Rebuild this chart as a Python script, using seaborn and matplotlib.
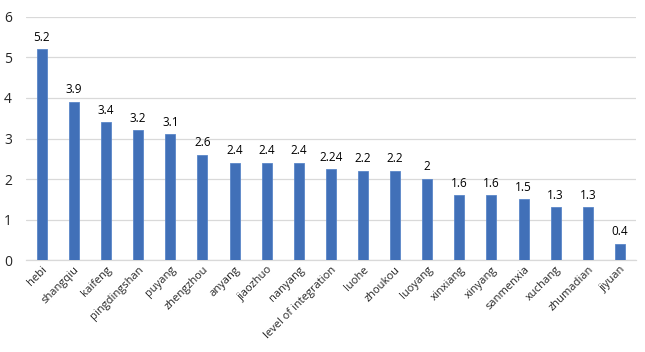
import pandas as pd
import matplotlib
matplotlib.use("Agg")
import matplotlib.pyplot as plt
import seaborn as sns

# Data
cities = ['hebi', 'shangqiu', 'kaifeng', 'pingdingshan', 'puyang', 'zhengzhou',
          'anyang', 'jiaozhuo', 'nanyang', 'level of integration', 'luohe',
          'zhoukou', 'luoyang', 'xinxiang', 'xinyang', 'sanmenxia', 'xuchang',
          'zhumadian', 'jiyuan']
scores = [5.2, 3.9, 3.4, 3.2, 3.1, 2.6, 2.4, 2.4, 2.4, 2.24, 2.2, 2.2, 2.0,
          1.6, 1.6, 1.5, 1.3, 1.3, 0.4]
yticks = [0, 1, 2, 3, 4, 5, 6]

df = pd.DataFrame({'City': cities, 'Score': scores})

sns.set_style("white")
plt.rcParams['font.family'] = ['Open Sans', 'DejaVu Sans']

fig = plt.figure(figsize=(6.45, 3.52), dpi=100)
ax = fig.add_axes([0.040, 0.261, 0.946, 0.691])

sns.barplot(data=df, x='City', y='Score', color='#4170B8', width=0.31,
            edgecolor='#5A86C8', linewidth=0.6, saturation=1, ax=ax, zorder=3)

# Value labels on top of each bar
ax.bar_label(ax.containers[0], labels=[f"{v:g}" for v in scores],
             padding=4, fontsize=8.5, color='black')

ax.set_ylim(0, 6)
ax.set_yticks(yticks)
ax.set_xlim(-0.5, len(cities) - 0.5)
ax.grid(axis='y', color='#D9D9D9', linewidth=0.9, zorder=0)
ax.set_axisbelow(True)

for side in ['top', 'right', 'left']:
    ax.spines[side].set_visible(False)
ax.spines['bottom'].set_color('#D9D9D9')
ax.spines['bottom'].set_linewidth(0.9)

ax.set_xlabel('')
ax.set_ylabel('')
ax.tick_params(axis='both', length=0)
ax.tick_params(axis='y', labelsize=10, pad=10)
ax.tick_params(axis='x', labelsize=8, pad=3)
plt.setp(ax.get_xticklabels(), rotation=45, ha='right', rotation_mode='anchor')

plt.savefig('out.png', dpi=100)
